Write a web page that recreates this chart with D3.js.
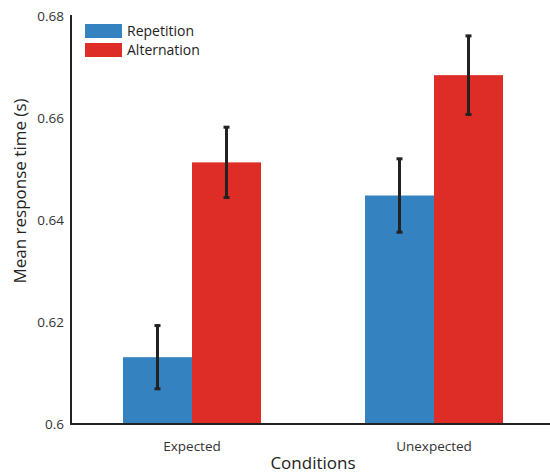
<!DOCTYPE html>
<html>
<head>
<meta charset="utf-8">
<script src="https://cdn.jsdelivr.net/npm/d3@7"></script>
<style>
  body { margin: 0; background: #fff; }
  svg { font-family: "Open Sans", sans-serif; }
</style>
</head>
<body>
<svg width="550" height="473"></svg>
<script>
var conditions = ["Expected", "Unexpected"];
var seriesNames = ["Repetition", "Alternation"];
var repetitionMeans = [0.6131, 0.6448];
var alternationMeans = [0.6513, 0.6684];
var repetitionErr = [0.0062, 0.0072];
var alternationErr = [0.0069, 0.0077];
var yTicks = [0.6, 0.62, 0.64, 0.66, 0.68];
var colors = ["#3482bf", "#de2d27"];

var svg = d3.select("svg");
var width = +svg.attr("width");

var data = [];
conditions.forEach(function(c, i) {
  data.push({ cond: c, series: seriesNames[0], mean: repetitionMeans[i], err: repetitionErr[i] });
  data.push({ cond: c, series: seriesNames[1], mean: alternationMeans[i], err: alternationErr[i] });
});

var yScale = d3.scaleLinear()
  .domain([0.6, 0.68])
  .range([424, 16]);

var xScale = d3.scaleBand()
  .domain(conditions)
  .range([71, 555])
  .paddingInner(0)
  .paddingOuter(0);

var innerScale = d3.scaleBand()
  .domain(seriesNames)
  .range([-69, 69]);

var colorScale = d3.scaleOrdinal()
  .domain(seriesNames)
  .range(colors);

// bars
svg.selectAll("rect.bar")
  .data(data)
  .enter()
  .append("rect")
    .attr("class", "bar")
    .attr("x", d => xScale(d.cond) + xScale.bandwidth() / 2 + innerScale(d.series))
    .attr("y", d => yScale(d.mean))
    .attr("width", innerScale.bandwidth())
    .attr("height", d => yScale(0.6) - yScale(d.mean))
    .attr("fill", d => colorScale(d.series));

// error bars
var errG = svg.selectAll("g.err")
  .data(data)
  .enter()
  .append("g")
    .attr("class", "err")
    .attr("transform", d => "translate(" + (xScale(d.cond) + xScale.bandwidth() / 2 + innerScale(d.series) + innerScale.bandwidth() / 2) + ",0)");

errG.append("line")
  .attr("y1", d => yScale(d.mean + d.err))
  .attr("y2", d => yScale(d.mean - d.err))
  .attr("stroke", "#222")
  .attr("stroke-width", 3);

errG.append("line")
  .attr("x1", -3).attr("x2", 3)
  .attr("y1", d => yScale(d.mean + d.err))
  .attr("y2", d => yScale(d.mean + d.err))
  .attr("stroke", "#222")
  .attr("stroke-width", 3);

errG.append("line")
  .attr("x1", -3).attr("x2", 3)
  .attr("y1", d => yScale(d.mean - d.err))
  .attr("y2", d => yScale(d.mean - d.err))
  .attr("stroke", "#222")
  .attr("stroke-width", 3);

// axes
var yAxis = d3.axisLeft(yScale)
  .tickValues(yTicks)
  .tickSize(0)
  .tickPadding(7)
  .tickFormat(d => String(+d.toFixed(2)));

var yG = svg.append("g")
  .attr("transform", "translate(71,0)")
  .call(yAxis);
yG.select(".domain").remove();
yG.selectAll("text")
  .style("font-size", "13.5px")
  .style("fill", "#333")
  .style("font-family", "Open Sans, sans-serif");

var xAxis = d3.axisBottom(xScale).tickSize(0).tickPadding(17);
var xG = svg.append("g")
  .attr("transform", "translate(0,424)")
  .call(xAxis);
xG.select(".domain").remove();
xG.selectAll("text")
  .style("font-size", "13.5px")
  .style("fill", "#333")
  .style("font-family", "Open Sans, sans-serif");

svg.append("line")
  .attr("x1", 71).attr("x2", width)
  .attr("y1", 424).attr("y2", 424)
  .attr("stroke", "#222")
  .attr("stroke-width", 2);

svg.append("line")
  .attr("x1", 71).attr("x2", 71)
  .attr("y1", 15).attr("y2", 425)
  .attr("stroke", "#222")
  .attr("stroke-width", 2);

// axis titles
svg.append("text")
  .text("Mean response time (s)")
  .attr("transform", "translate(26,191) rotate(-90)")
  .style("text-anchor", "middle")
  .style("font-size", "17px")
  .style("fill", "#222");

svg.append("text")
  .text("Conditions")
  .attr("x", 313)
  .attr("y", 469)
  .style("text-anchor", "middle")
  .style("font-size", "17px")
  .style("fill", "#222");

// legend
var legend = svg.selectAll("g.legend")
  .data(seriesNames)
  .enter()
  .append("g")
    .attr("class", "legend")
    .attr("transform", (d, i) => "translate(85," + (24 + i * 19) + ")");

legend.append("rect")
  .attr("width", 37)
  .attr("height", 14)
  .attr("fill", d => colorScale(d));

legend.append("text")
  .text(d => d)
  .attr("x", 42)
  .attr("y", 12)
  .style("font-size", "14px")
  .style("fill", "#222");
</script>
</body>
</html>
